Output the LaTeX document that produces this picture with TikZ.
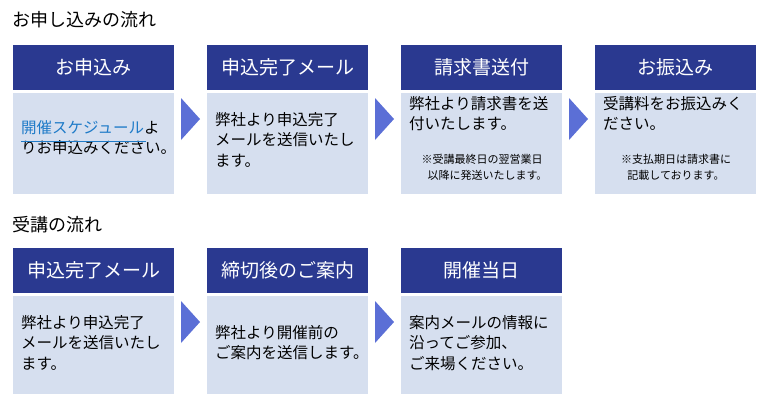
\documentclass[tikz,border=0pt]{standalone}
\usepackage{fontspec}
\setmainfont{Noto Sans CJK JP}
\definecolor{hdr}{HTML}{2A3990}
\definecolor{bod}{HTML}{D6DFEF}
\definecolor{arr}{HTML}{5B6FD6}
\definecolor{lnk}{HTML}{1F7BC8}
\tikzset{
 hd/.style={fill=hdr,text=white,minimum width=161pt,minimum height=45pt,anchor=north west,inner sep=0pt,font=\fontsize{19}{20}\selectfont},
 bd/.style={fill=bod,minimum width=161pt,anchor=north west,inner sep=0pt},
 tx/.style={anchor=north west,align=left,inner sep=0pt,font=\fontsize{15.5}{20.5}\selectfont},
 nt/.style={anchor=north,align=center,inner sep=0pt,font=\fontsize{11}{16}\selectfont},
 ttl/.style={anchor=west,inner sep=0pt,font=\fontsize{18}{20}\selectfont},
 ar/.style={fill=arr}
}
\begin{document}
\begin{tikzpicture}[x=1pt,y=-1pt]
\useasboundingbox (0,0) rectangle (759,400);
\node[ttl] (t1) at (12,20) {お申し込みの流れ};
\node[ttl] (t2) at (12,225) {受講の流れ};
% row 1
\node[hd] (h1) at (13,45) {お申込み};
\node[hd] (h2) at (207,45) {申込完了メール};
\node[hd] (h3) at (401,45) {請求書送付};
\node[hd] (h4) at (595,45) {お振込み};
\node[bd,minimum height=101pt] (b1) at (13,93) {};
\node[bd,minimum height=101pt] (b2) at (207,93) {};
\node[bd,minimum height=101pt] (b3) at (401,93) {};
\node[bd,minimum height=101pt] (b4) at (595,93) {};
\node[tx] (x1) at (21,120) {\textcolor{lnk}{開催スケジュール}よ\\りお申込みください。};
\draw[lnk,line width=0.7pt] (21,141) -- (146,141);
\node[tx] (x2) at (215,112) {弊社より申込完了\\メールを送信いたし\\ます。};
\node[tx] (x3) at (409,96) {弊社より請求書を送\\付いたします。};
\node[nt] (n3) at (482,154) {※受講最終日の翌営業日\\\hspace*{1em}以降に発送いたします。};
\node[tx] (x4) at (603,96) {受講料をお振込みく\\ださい。};
\node[nt] (n4) at (676,154) {※支払期日は請求書に\\記載しております。};
\fill[arr] (181,98) -- (200,119) -- (181,140) -- cycle;
\fill[arr] (375,98) -- (394,119) -- (375,140) -- cycle;
\fill[arr] (569,98) -- (588,119) -- (569,140) -- cycle;
% row 2
\node[hd] (h5) at (13,248) {申込完了メール};
\node[hd] (h6) at (207,248) {締切後のご案内};
\node[hd] (h7) at (401,248) {開催当日};
\node[bd,minimum height=98pt] (b5) at (13,296) {};
\node[bd,minimum height=98pt] (b6) at (207,296) {};
\node[bd,minimum height=98pt] (b7) at (401,296) {};
\node[tx] (x5) at (21,315) {弊社より申込完了\\メールを送信いたし\\ます。};
\node[tx] (x6) at (215,325) {弊社より開催前の\\ご案内を送信します。};
\node[tx] (x7) at (409,315) {案内メールの情報に\\沿ってご参加、\\ご来場ください。};
\fill[arr] (181,301) -- (200,322) -- (181,343) -- cycle;
\fill[arr] (375,301) -- (394,322) -- (375,343) -- cycle;
\end{tikzpicture}
\end{document}
